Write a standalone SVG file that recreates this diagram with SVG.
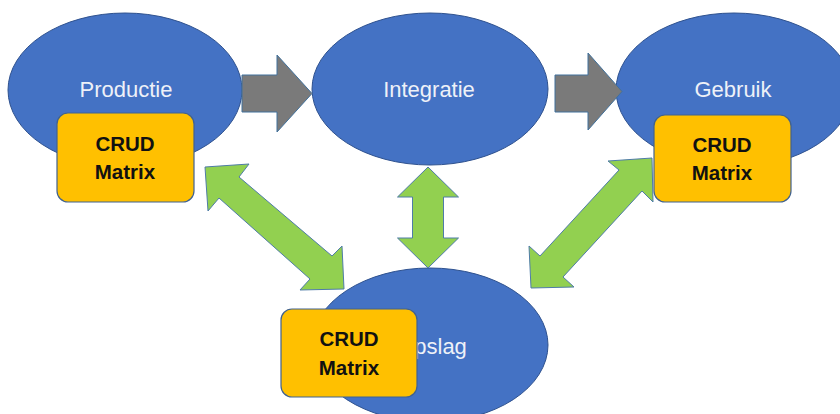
<svg xmlns="http://www.w3.org/2000/svg" width="840" height="414" viewBox="0 0 840 414">
  <style>
    .ell { fill: #4472c4; stroke: #2f528f; stroke-width: 1; }
    .lbl { font-family: "Liberation Sans", Arial, sans-serif; font-size: 22px; fill: #eef1f8; text-anchor: middle; }
    .box { fill: #ffc000; stroke: #41628f; stroke-width: 1.2; }
    .crud { font-family: "Liberation Sans", Arial, sans-serif; font-size: 20.5px; font-weight: bold; fill: #111; text-anchor: middle; }
    .grey { fill: #7a7a7a; stroke: #41719c; stroke-width: 1; stroke-linejoin: miter; }
    .green { fill: #92d050; stroke: #4f7ca8; stroke-width: 1; stroke-linejoin: miter; }
  </style>
  <defs>
    <path id="dbl" d="M -50 0 L -20 -30.5 L -20 -15.5 L 20 -15.5 L 20 -30.5 L 50 0 L 20 30.5 L 20 15.5 L -20 15.5 L -20 30.5 Z"/>
  </defs>
  <rect width="840" height="414" fill="#ffffff"/>

  <g id="node-productie">
    <ellipse class="ell" cx="125" cy="90" rx="117" ry="77"/>
    <text class="lbl" x="126" y="97">Productie</text>
  </g>
  <g id="node-integratie">
    <ellipse class="ell" cx="430" cy="89" rx="118" ry="76"/>
    <text class="lbl" x="429" y="97">Integratie</text>
  </g>
  <g id="node-gebruik">
    <ellipse class="ell" cx="734" cy="90" rx="118" ry="77"/>
    <text class="lbl" x="733" y="97">Gebruik</text>
  </g>
  <g id="node-opslag">
    <ellipse class="ell" cx="430" cy="345" rx="118" ry="77"/>
    <text class="lbl" x="432" y="354">Opslag</text>
  </g>

  <g id="connectors">
    <path class="grey" d="M 242 75 L 277 75 L 277 55 L 312 93.5 L 277 132 L 277 112 L 242 112 Z"/>
    <path class="grey" d="M 555 75 L 588 75 L 588 53 L 622 91.5 L 588 130 L 588 112 L 555 112 Z"/>
    <path class="green" d="M 428 167 L 458.5 197 L 443.5 197 L 443.5 238 L 458.5 238 L 428 268 L 397.5 238 L 412.5 238 L 412.5 197 L 397.5 197 Z"/>
    <path class="green" d="M 205 167 L 249 164 L 239 177 L 332 256 L 342 246 L 344 289 L 300 290 L 310 279 L 219 198 L 208 211 Z"/>
    <path class="green" d="M 652 158 L 653 202 L 642 191 L 563 277 L 574 287 L 531 288 L 529 246 L 540 256 L 619 170 L 608 161 Z"/>
  </g>

  <g id="crud-productie">
    <rect class="box" x="57" y="113" width="137" height="89" rx="11"/>
    <text class="crud" x="125" y="151">CRUD</text>
    <text class="crud" x="125" y="179">Matrix</text>
  </g>
  <g id="crud-gebruik">
    <rect class="box" x="654" y="115" width="137" height="87" rx="11"/>
    <text class="crud" x="722" y="152">CRUD</text>
    <text class="crud" x="722" y="180">Matrix</text>
  </g>
  <g id="crud-opslag">
    <rect class="box" x="281" y="309" width="136" height="88" rx="11"/>
    <text class="crud" x="349" y="346">CRUD</text>
    <text class="crud" x="349" y="375">Matrix</text>
  </g>
</svg>
